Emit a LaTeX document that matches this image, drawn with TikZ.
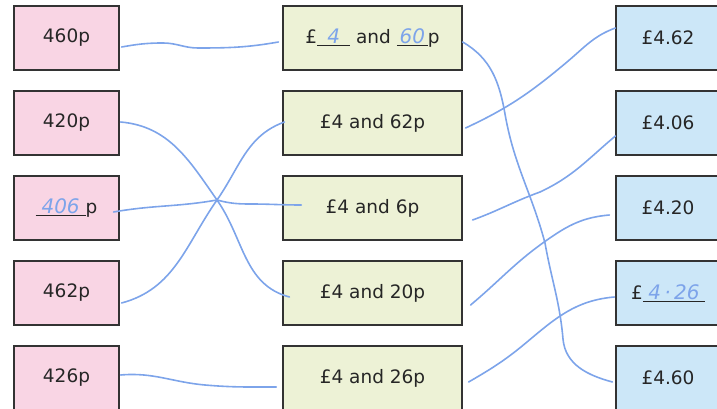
\documentclass[tikz,border=0pt]{standalone}
\usepackage{fontspec}
\setmainfont{DejaVu Sans}
\usepackage{xcolor}
\usetikzlibrary{calc}
\definecolor{pinkbox}{HTML}{F9D5E4}
\definecolor{greenbox}{HTML}{EDF2D6}
\definecolor{bluebox}{HTML}{CCE7F8}
\definecolor{stift}{HTML}{7DA4EA}
\definecolor{rand}{HTML}{333333}
\newcommand{\hand}[1]{\textcolor{stift}{\fontsize{20}{20}\selectfont\itshape #1}}
\newcommand{\luecke}[2]{\underline{\makebox[#1]{\hand{#2}}}}

\begin{document}
\begin{tikzpicture}[x=1pt,y=1pt,
    karte/.style={rectangle, draw=rand, line width=1.2pt, minimum height=64pt,
      inner sep=0pt, text=black!85, font=\fontsize{18.5}{20}\selectfont},
    pence/.style={karte, fill=pinkbox, minimum width=105pt},
    mitte/.style={karte, fill=greenbox, minimum width=179pt},
    pfund/.style={karte, fill=bluebox, minimum width=104pt},
    strich/.style={stift, line width=1.6pt, line cap=round}]
        % Rahmen
        \useasboundingbox (0,0) rectangle (717,409);
        % Karten links - Pence
        \node at (66.5,371) [pence] (l1) {460p};
        \node at (66.5,286) [pence] (l2) {420p};
        \node at (66.5,201) [pence] (l3) {\luecke{50pt}{406}p};
        \node at (66.5,116) [pence] (l4) {462p};
        \node at (66.5,31) [pence] (l5) {426p};
        % Karten Mitte - Pfund und Pence
        \node at (372.5,371) [mitte] (m1) {£\luecke{33pt}{4} and \luecke{31pt}{60}p};
        \node at (372.5,286) [mitte] (m2) {£4 and 62p};
        \node at (372.5,201) [mitte] (m3) {£4 and 6p};
        \node at (372.5,116) [mitte] (m4) {£4 and 20p};
        \node at (372.5,31) [mitte] (m5) {£4 and 26p};
        % Karten rechts - Pfund
        \node at (668,371) [pfund] (r1) {£4.62};
        \node at (668,286) [pfund] (r2) {£4.06};
        \node at (668,201) [pfund] (r3) {£4.20};
        \node at (668,116) [pfund] (r4) {£\luecke{62pt}{4\,·\,26}};
        \node at (668,31) [pfund] (r5) {£4.60};
        % Kreuzungspunkt
        \coordinate (kreuz) at (217,209);
        % Linien links - Mitte
        \draw[strich] ([xshift=2,yshift=-9]l1.east) to[out=10,in=180] (163,366)
            to[out=0,in=180] (198,361) to[out=0,in=190] ([xshift=-4,yshift=-4]m1.west);
        \draw[strich] ([xshift=1,yshift=1]l2.east) to[out=-5,in=125] (kreuz)
            to[out=-55,in=165] ([xshift=7,yshift=-4]m4.west);
        \draw[strich] ([xshift=-6,yshift=-4]l3.east) to[out=10,in=190] (kreuz)
            to[out=-15,in=180] (250,205) to[out=0,in=180] ([xshift=19,yshift=3]m3.west);
        \draw[strich] ([xshift=2,yshift=-10]l4.east) to[out=15,in=235] (kreuz)
            to[out=55,in=200] ([xshift=2,yshift=1]m2.west);
        \draw[strich] ([xshift=1,yshift=3]l5.east) to[out=5,in=175] (205,24)
            to[out=-5,in=180] ([xshift=-6,yshift=-9]m5.west);
        % Linien Mitte - rechts
        \draw[strich] ([yshift=-4]m1.east) to[out=-30,in=100] (505,295)
            to[out=-80,in=105] (545,166) to[out=-80,in=95] (563,70)
            to[out=-85,in=165] ([xshift=-3,yshift=-4]r5.west);
        \draw[strich] ([xshift=3,yshift=-5]m2.east) to[out=25,in=220] (567,347)
            to[out=40,in=200] ([yshift=10]r1.west);
        \draw[strich] ([xshift=10,yshift=-12]m3.east) to[out=20,in=200] (540,217)
            to[out=25,in=220] ([yshift=-13]r2.west);
        \draw[strich] ([xshift=8,yshift=-12]m4.east) to[out=40,in=215] (547,169)
            to[out=35,in=185] ([xshift=-6,yshift=-7]r3.west);
        \draw[strich] ([xshift=6,yshift=-4]m5.east) to[out=30,in=220] (527,67)
            to[out=40,in=185] ([xshift=-1,yshift=-4]r4.west);
    \end{tikzpicture}
\end{document}
